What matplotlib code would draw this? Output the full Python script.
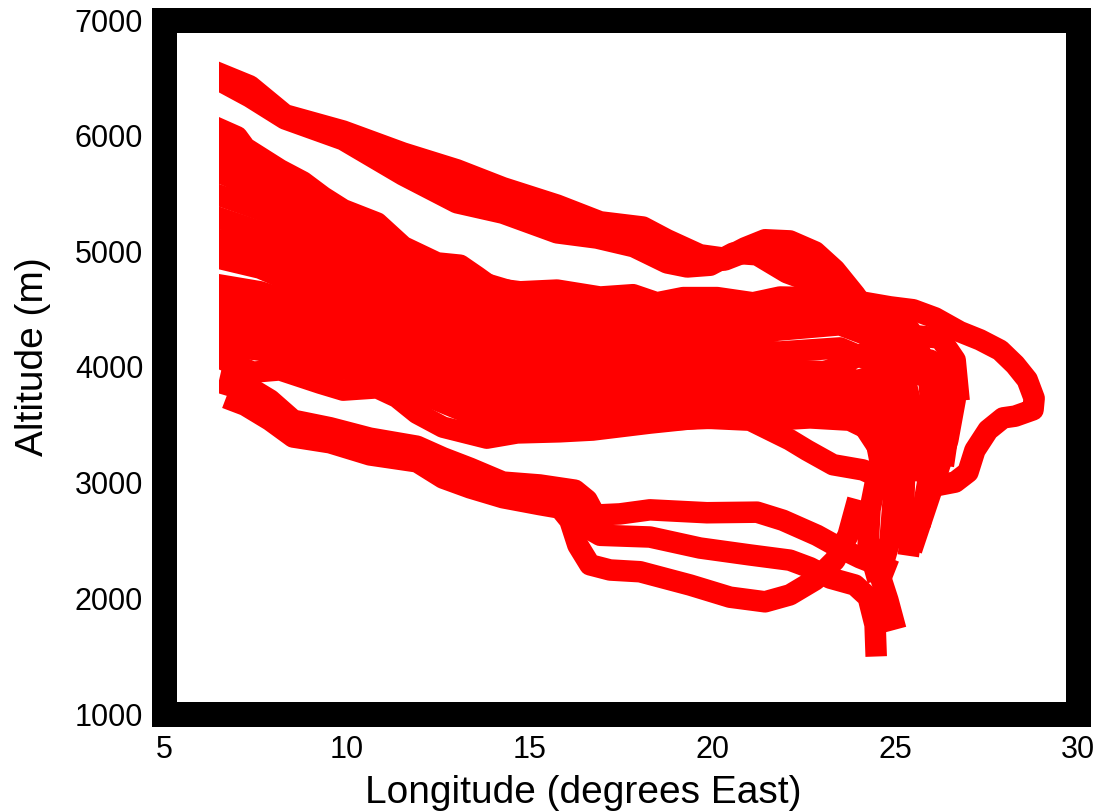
import matplotlib
matplotlib.use("Agg")
import matplotlib.pyplot as plt
from matplotlib.patches import Rectangle

plt.rcParams['font.family'] = ['Liberation Sans', 'DejaVu Sans']

# Back-trajectory paths: longitude (deg E) and altitude (m)
a1_lon = [6.50, 7.35, 8.31, 9.90, 11.54, 13.01, 14.27, 15.75, 16.93, 18.10, 18.76, 19.66, 20.34, 20.89, 21.44, 22.12, 22.81, 23.35, 23.90, 24.58, 25.27]
a1_alt = [6540, 6430, 6180, 6040, 5850, 5705, 5550, 5400, 5255, 5210, 5100, 4970, 4940, 5030, 5100, 5090, 4995, 4840, 4625, 4320, 3975]

a2_lon = [6.50, 7.35, 8.31, 9.90, 11.54, 13.01, 14.27, 15.75, 16.84, 17.85, 18.76, 19.31, 19.94, 20.57, 21.22, 22.04, 22.94, 23.76, 24.58, 25.40]
a2_alt = [6480, 6335, 6145, 5965, 5660, 5420, 5330, 5160, 5115, 5040, 4900, 4865, 4880, 4985, 4970, 4815, 4710, 4580, 4405, 4145]

a3_lon = [6.50, 7.35, 8.31, 9.90, 11.54, 13.01, 14.27, 15.75, 16.93, 18.02, 18.84, 19.66, 20.34, 21.03, 21.71, 22.40, 23.22, 24.04, 24.86]
a3_alt = [6505, 6380, 6160, 6000, 5755, 5555, 5445, 5280, 5185, 5115, 4995, 4910, 4925, 5010, 4970, 4880, 4710, 4495, 4190]

loop_lon = [6.50, 7.00, 7.22, 8.17, 8.80, 9.35, 9.90, 10.83, 11.54, 12.47, 13.10, 13.56, 14.00, 14.74, 15.75, 16.93, 17.83, 18.48, 19.20, 20.13, 21.11, 21.85, 22.67, 23.76, 24.86, 25.49, 26.09, 26.77, 27.32, 27.87, 28.28, 28.61, 28.80, 28.77, 28.28, 27.95, 27.54, 27.18, 26.99, 26.64, 26.23]
loop_alt = [6060, 5990, 5895, 5705, 5600, 5470, 5360, 5245, 5040, 4900, 4880, 4780, 4680, 4650, 4665, 4605, 4625, 4555, 4600, 4600, 4555, 4605, 4600, 4580, 4520, 4495, 4425, 4305, 4235, 4145, 4020, 3890, 3730, 3630, 3575, 3560, 3455, 3280, 3090, 3005, 2980]

t1_lon = [6.50, 7.63, 9.00, 10.36, 12.00, 13.64, 15.28, 16.93, 18.57, 20.21, 21.85, 23.49, 24.58, 25.40, 25.90, 26.01, 25.95, 25.73]
t1_alt = [5875, 5705, 5485, 5255, 4940, 4735, 4580, 4495, 4450, 4450, 4475, 4495, 4450, 4320, 3975, 3540, 3110, 2720]

t2_lon = [6.50, 7.63, 9.00, 10.36, 12.00, 13.64, 15.28, 16.93, 18.57, 20.21, 21.85, 23.49, 24.58, 25.27, 25.54, 25.40]
t2_alt = [5685, 5530, 5315, 5100, 4795, 4600, 4425, 4365, 4320, 4275, 4320, 4365, 4235, 3890, 3540, 3110]

t3_lon = [6.50, 7.63, 9.00, 10.36, 12.00, 13.64, 15.28, 16.93, 18.57, 20.21, 21.85, 23.49, 24.58, 25.13, 25.27, 25.21]
t3_alt = [5485, 5360, 5140, 4940, 4665, 4475, 4320, 4235, 4190, 4145, 4130, 4165, 4020, 3630, 3195, 2590]

t4_lon = [6.50, 7.63, 9.00, 10.36, 12.00, 13.64, 15.28, 16.93, 18.57, 20.21, 21.85, 23.49, 24.31, 24.86, 24.99, 24.86, 24.58, 24.80, 24.94]
t4_alt = [5290, 5170, 4970, 4795, 4535, 4365, 4190, 4105, 4060, 4020, 3975, 3955, 3800, 3455, 3025, 2505, 2200, 1985, 1820]

t5_lon = [6.50, 7.63, 9.00, 10.36, 12.00, 13.64, 15.28, 16.93, 18.57, 20.21, 21.85, 23.49, 24.31, 24.58, 24.31, 24.26, 24.45]
t5_alt = [5100, 4995, 4820, 4650, 4425, 4235, 4080, 3975, 3905, 3870, 3845, 3800, 3630, 3195, 2765, 2460, 2245]

t6_lon = [6.50, 7.63, 9.00, 10.36, 12.00, 13.64, 15.28, 16.93, 18.57, 20.21, 21.85, 23.22, 24.04, 24.58, 25.13, 25.46, 25.40]
t6_alt = [4940, 4855, 4665, 4510, 4305, 4105, 3955, 3845, 3785, 3730, 3715, 3670, 3540, 3280, 2850, 2590, 2460]

t7_lon = [6.50, 7.63, 9.00, 10.36, 12.00, 13.64, 15.28, 16.93, 18.57, 20.21, 21.85, 23.22, 24.31, 25.13, 25.95, 26.50, 26.64, 26.44, 26.09, 25.54]
t7_alt = [4710, 4650, 4510, 4365, 4190, 3975, 3845, 3760, 3700, 3670, 3670, 3760, 3890, 4020, 4060, 3955, 3715, 3370, 3025, 2505]

t8_lon = [6.50, 7.63, 9.00, 10.36, 12.00, 13.64, 15.28, 16.93, 18.57, 20.21, 21.85, 23.22, 24.31, 25.40, 26.23, 26.64, 26.72]
t8_alt = [4535, 4475, 4365, 4235, 4060, 3845, 3715, 3630, 3645, 3715, 3845, 3975, 4145, 4275, 4250, 4060, 3800]

t9_lon = [6.50, 7.63, 9.00, 10.36, 12.00, 13.64, 15.28, 16.93, 18.57, 20.21, 21.85, 22.94, 24.04, 25.13, 26.23, 26.50, 26.36]
t9_alt = [4365, 4320, 4190, 4080, 3905, 3715, 3585, 3540, 3585, 3630, 3670, 3760, 3890, 3975, 3890, 3540, 3240]

t10_lon = [6.50, 7.63, 9.00, 10.36, 12.00, 13.64, 15.28, 16.93, 18.57, 20.21, 21.58, 22.67, 23.76, 24.31, 24.72]
t10_alt = [4190, 4145, 4045, 3955, 3775, 3560, 3500, 3500, 3540, 3560, 3540, 3560, 3540, 3455, 3195]

t11_lon = [6.50, 7.43, 8.17, 9.27, 9.90, 10.83, 11.37, 11.92, 12.63, 13.83, 14.66, 15.83, 16.73, 18.29, 19.66, 21.03, 22.12, 22.59, 23.30, 24.12, 24.72, 25.13]
t11_alt = [4080, 3955, 3975, 3860, 3800, 3820, 3740, 3600, 3480, 3385, 3430, 3440, 3455, 3515, 3560, 3540, 3370, 3280, 3155, 3110, 3025, 2935]

low1_lon = [6.80, 7.22, 7.90, 8.53, 9.54, 10.63, 11.92, 12.63, 13.37, 14.27, 15.28, 16.24, 16.57, 16.79, 17.47, 18.29, 19.85, 21.22, 21.93, 22.86, 23.49, 24.04, 24.72]
low1_alt = [3875, 3845, 3715, 3540, 3475, 3385, 3315, 3215, 3125, 3005, 2980, 2935, 2850, 2720, 2730, 2765, 2740, 2745, 2675, 2545, 2435, 2350, 2265]

low2_lon = [6.80, 7.22, 7.90, 8.53, 9.54, 10.63, 11.92, 12.63, 13.37, 14.27, 15.28, 15.97, 16.32, 16.57, 16.93, 18.29, 19.66, 21.03, 22.12, 22.67, 23.22, 23.90, 24.26, 24.45, 24.47]
low2_alt = [3840, 3800, 3670, 3500, 3430, 3345, 3265, 3160, 3075, 2965, 2920, 2875, 2745, 2610, 2545, 2530, 2435, 2375, 2330, 2265, 2175, 2115, 2010, 1770, 1590]

low3_lon = [6.97, 7.22, 7.90, 8.53, 9.54, 10.63, 11.92, 12.63, 13.37, 14.27, 15.28, 15.83, 16.10, 16.32, 16.65, 17.20, 18.02, 19.39, 20.48, 21.44, 22.12, 22.81, 23.35, 23.71, 23.90]
low3_alt = [3700, 3670, 3540, 3395, 3345, 3240, 3180, 3040, 2955, 2870, 2810, 2780, 2675, 2460, 2290, 2245, 2230, 2115, 2010, 1970, 2030, 2160, 2330, 2545, 2765]

start_lon = 6.5
x_ticks = [5, 10, 15, 20, 25, 30]
y_ticks = [1000, 2000, 3000, 4000, 5000, 6000, 7000]

paths = [
    (a1_lon, a1_alt), (a2_lon, a2_alt), (a3_lon, a3_alt), (loop_lon, loop_alt),
    (t1_lon, t1_alt), (t2_lon, t2_alt), (t3_lon, t3_alt), (t4_lon, t4_alt),
    (t5_lon, t5_alt), (t6_lon, t6_alt), (t7_lon, t7_alt), (t8_lon, t8_alt),
    (t9_lon, t9_alt), (t10_lon, t10_alt), (t11_lon, t11_alt),
    (low1_lon, low1_alt), (low2_lon, low2_alt), (low3_lon, low3_alt),
]

fig = plt.figure(figsize=(11.02, 8.11), dpi=100)
ax = fig.add_axes([164 / 1102, 1 - 714 / 811, 914 / 1102, 694 / 811])

ax.set_xlim(5, 30)
ax.set_ylim(1000, 7000)

# trajectories start on a common meridian: cut the square caps there
start_clip = Rectangle((start_lon, 0), 40, 10000, transform=ax.transData,
                       fill=False, lw=0)
ax.add_patch(start_clip)
for lon, alt in paths:
    ln, = ax.plot(lon, alt, color='#ff0000', lw=15.5,
                  solid_capstyle='projecting', solid_joinstyle='round', zorder=2)
    ln.set_clip_path(start_clip)

ax.set_xticks(x_ticks)
ax.set_yticks(y_ticks)
ax.tick_params(length=0, labelsize=22, pad=15)

for s in ax.spines.values():
    s.set_visible(False)
ax.add_patch(Rectangle((0, 0), 1, 1, transform=ax.transAxes, fill=False,
                       lw=18, ec='black', joinstyle='miter', clip_on=False, zorder=5))

ax.set_xlabel('Longitude (degrees East)', fontsize=28)
ax.xaxis.set_label_coords((583 - 164) / 914, (714 - 803) / 694)
ax.xaxis.label.set_verticalalignment('baseline')

ax.set_ylabel('Altitude (m)', fontsize=28)
ax.yaxis.set_label_coords((43 - 164) / 914, (714 - 357) / 694)
ax.yaxis.label.set_verticalalignment('baseline')

fig.savefig('out.png', dpi=100)
